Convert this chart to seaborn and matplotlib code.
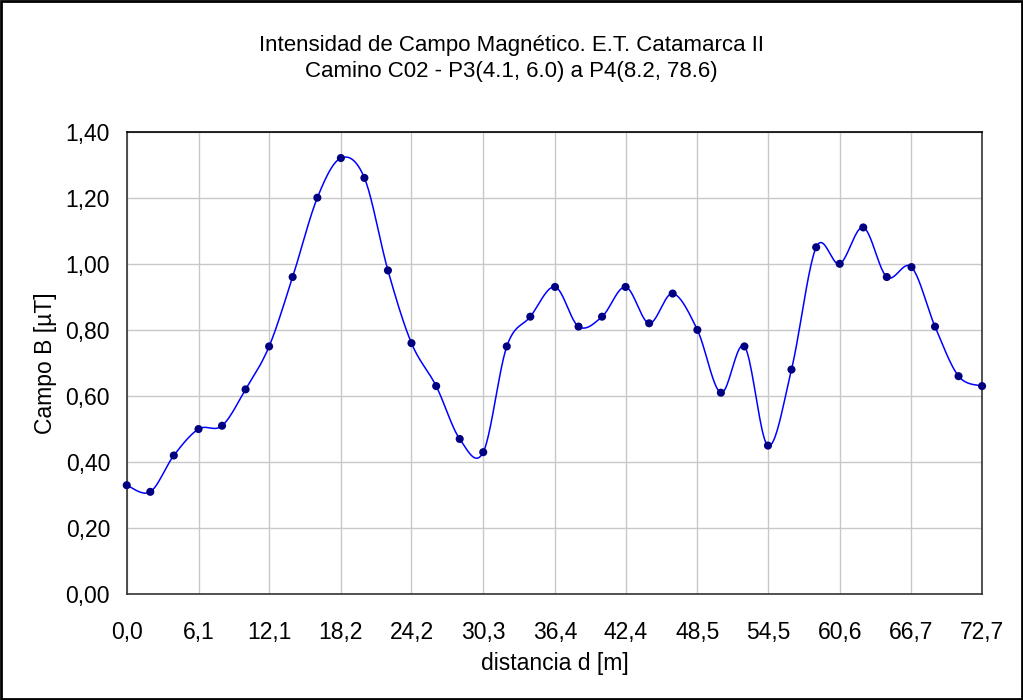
import numpy as np
import pandas as pd
import seaborn as sns
import matplotlib
matplotlib.use("Agg")
import matplotlib.pyplot as plt
from matplotlib.patches import Rectangle
from matplotlib.ticker import FuncFormatter

# Datos
distancia = [0.0, 2.0, 4.0, 6.1, 8.1, 10.1, 12.1, 14.1, 16.2, 18.2, 20.2, 22.2,
             24.2, 26.3, 28.3, 30.3, 32.3, 34.3, 36.4, 38.4, 40.4, 42.4, 44.4,
             46.4, 48.5, 50.5, 52.5, 54.5, 56.5, 58.6, 60.6, 62.6, 64.6, 66.7,
             68.7, 70.7, 72.7]
campo_b = [0.33, 0.31, 0.42, 0.50, 0.51, 0.62, 0.75, 0.96, 1.20, 1.32, 1.26, 0.98,
           0.76, 0.63, 0.47, 0.43, 0.75, 0.84, 0.93, 0.81, 0.84, 0.93, 0.82,
           0.91, 0.80, 0.61, 0.75, 0.45, 0.68, 1.05, 1.00, 1.11, 0.96, 0.99,
           0.81, 0.66, 0.63]
y_ticks = [0.0, 0.2, 0.4, 0.6, 0.8, 1.0, 1.2, 1.4]

titulo_1 = "Intensidad de Campo Magnético. E.T. Catamarca II"
titulo_2 = "Camino C02 - P3(4.1, 6.0) a P4(8.2, 78.6)"

df = pd.DataFrame({"d": distancia, "B": campo_b})


# curva suavizada tipo Excel (bezier / catmull-rom)
def suavizar(x, y, n=24):
    p = np.column_stack([x, y])
    p = np.vstack([p[0], p, p[-1]])
    out = []
    t = np.linspace(0, 1, n)[:, None]
    for i in range(1, len(p) - 2):
        p0, p1, p2, p3 = p[i - 1], p[i], p[i + 1], p[i + 2]
        b1 = p1 + (p2 - p0) / 6
        b2 = p2 - (p3 - p1) / 6
        seg = ((1 - t) ** 3) * p1 + 3 * ((1 - t) ** 2) * t * b1 + 3 * (1 - t) * t ** 2 * b2 + t ** 3 * p2
        out.append(seg if i == 1 else seg[1:])
    return np.vstack(out)


curva = suavizar(df["d"].values, df["B"].values)
df_curva = pd.DataFrame({"d": curva[:, 0], "B": curva[:, 1]})

sns.set_style("white")
plt.rcParams["font.family"] = ["Liberation Sans", "DejaVu Sans"]
plt.rcParams["text.color"] = "black"
plt.rcParams["axes.labelcolor"] = "black"

fig = plt.figure(figsize=(10.23, 7), dpi=100)
ax = fig.add_axes([0.1239, 0.151, 0.8361, 0.661])

sns.lineplot(data=df_curva, x="d", y="B", sort=False, estimator=None,
             color="#0000ff", linewidth=1.1, ax=ax)
sns.scatterplot(data=df, x="d", y="B", color="#000080", s=34,
                edgecolor="none", zorder=5, clip_on=False, ax=ax)

ax.set_xlim(0, 72.7)
ax.set_ylim(0, 1.4)
ax.set_xticks(distancia[::3])
ax.set_xticks(distancia, minor=True)
ax.set_yticks(y_ticks)
ax.set_yticks(np.arange(0, 1.41, 0.04), minor=True)
ax.xaxis.set_major_formatter(FuncFormatter(lambda v, p: f"{v:.1f}".replace(".", ",")))
ax.yaxis.set_major_formatter(FuncFormatter(lambda v, p: f"{v:.2f}".replace(".", ",")))

ax.grid(True, which="major", color="#c8c8c8", linewidth=1.0)
ax.set_axisbelow(True)
ax.tick_params(which="both", direction="in", length=5, width=1, color="#333333",
               labelsize=16.5, labelcolor="black", pad=12)
ax.tick_params(axis="x", which="major", pad=19)

for s in ax.spines.values():
    s.set_visible(True)
    s.set_color("#333333")
    s.set_linewidth(1.2)
ax.spines["top"].set_color("black")

ax.set_xlabel("distancia d [m]", fontsize=16.5, labelpad=6)
ax.set_ylabel("Campo B [µT]", fontsize=16.5, labelpad=6)
fig.text(0.5, 1 - 45 / 700, titulo_1, ha="center", va="center", fontsize=16)
fig.text(0.5, 1 - 72 / 700, titulo_2, ha="center", va="center", fontsize=16)

fig.patches.append(Rectangle((0.001, 0.001), 0.998, 0.998, transform=fig.transFigure,
                             fill=False, edgecolor="black", linewidth=2))

fig.savefig("out.png", dpi=100)
